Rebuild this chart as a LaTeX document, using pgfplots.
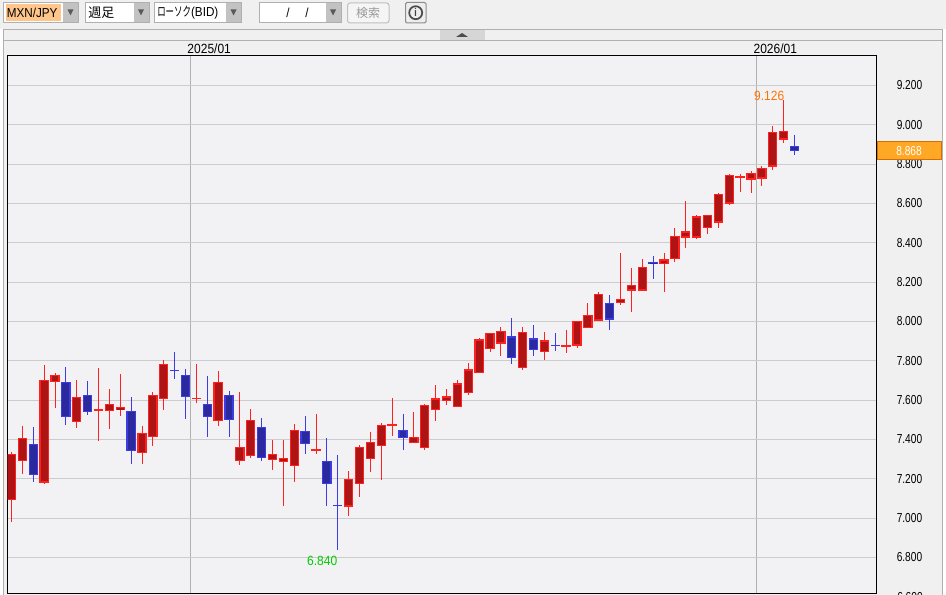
\documentclass[border=0pt]{standalone}
\usepackage{pgfplots}
\pgfplotsset{compat=1.18}
\usepackage{pgfplotstable}
\usepackage{fontspec}
\setmainfont[FakeStretch=0.78]{Liberation Sans}
\newfontfamily\wide[FakeStretch=0.9]{Liberation Sans}
\newfontfamily\jp{Noto Sans CJK JP}
\newfontfamily\jphalf[FakeStretch=0.65]{Noto Sans CJK JP}
\definecolor{upedge}{HTML}{FF2020}
\definecolor{upfill}{HTML}{AE1414}
\definecolor{downedge}{HTML}{3C3CE0}
\definecolor{downfill}{HTML}{2A2A9E}
\definecolor{panel}{HTML}{F2F2F5}
\definecolor{ui}{HTML}{F0F0F0}
\definecolor{uiline}{HTML}{B0B0B0}

% weekly candles, red = close above open
\pgfplotstableread{
i o h l c
0 7.091 7.338 6.981 7.326
1 7.290 7.470 7.227 7.407
3 7.181 7.781 7.174 7.703
4 7.693 7.739 7.559 7.729
6 7.489 7.705 7.460 7.616
8 7.543 7.766 7.390 7.555
9 7.545 7.659 7.455 7.581
10 7.550 7.735 7.521 7.565
12 7.331 7.470 7.276 7.433
13 7.412 7.644 7.368 7.627
14 7.605 7.802 7.552 7.785
17 7.606 7.786 7.588 7.611
19 7.494 7.746 7.470 7.693
21 7.291 7.642 7.269 7.362
22 7.316 7.556 7.304 7.499
24 7.296 7.399 7.243 7.326
25 7.286 7.399 7.061 7.306
26 7.265 7.480 7.183 7.448
28 7.346 7.531 7.325 7.352
31 7.058 7.242 7.010 7.199
32 7.174 7.374 7.107 7.362
33 7.301 7.439 7.233 7.387
34 7.367 7.485 7.193 7.473
35 7.473 7.612 7.419 7.478
37 7.382 7.541 7.382 7.412
38 7.357 7.581 7.348 7.575
39 7.549 7.678 7.495 7.610
40 7.595 7.657 7.576 7.620
41 7.564 7.703 7.564 7.686
42 7.635 7.787 7.628 7.757
43 7.736 7.916 7.736 7.909
44 7.858 7.944 7.846 7.944
45 7.888 7.970 7.826 7.954
47 7.762 7.970 7.752 7.949
49 7.843 7.949 7.806 7.904
51 7.868 7.959 7.841 7.878
52 7.878 8.005 7.866 8.005
53 7.965 8.096 7.965 8.035
54 8.005 8.149 8.005 8.142
56 8.096 8.346 8.083 8.117
57 8.157 8.270 8.047 8.188
58 8.157 8.316 8.157 8.279
60 8.290 8.346 8.152 8.316
61 8.316 8.473 8.304 8.437
62 8.427 8.611 8.375 8.458
63 8.427 8.540 8.420 8.534
64 8.473 8.544 8.444 8.544
65 8.503 8.655 8.474 8.650
66 8.599 8.752 8.591 8.746
67 8.731 8.752 8.657 8.741
68 8.721 8.767 8.652 8.757
69 8.726 8.789 8.687 8.782
70 8.787 8.992 8.768 8.965
71 8.924 9.126 8.910 8.970
}\uptab
\pgfplotstableread{
i o h l c
2 7.377 7.465 7.186 7.219
5 7.693 7.771 7.472 7.514
7 7.627 7.700 7.526 7.538
11 7.545 7.618 7.276 7.341
15 7.754 7.843 7.710 7.749
16 7.729 7.761 7.506 7.616
18 7.581 7.725 7.414 7.514
20 7.627 7.649 7.414 7.499
23 7.463 7.510 7.289 7.306
27 7.443 7.521 7.325 7.377
29 7.291 7.409 7.061 7.174
30 7.068 7.323 6.840 7.063
36 7.448 7.531 7.348 7.407
46 7.924 8.020 7.785 7.812
48 7.914 7.980 7.826 7.853
50 7.883 7.944 7.851 7.873
55 8.096 8.137 7.956 8.010
59 8.305 8.331 8.218 8.290
72 8.894 8.946 8.846 8.868
}\downtab

% wick, then body edge, then body fill, all as error bars
\pgfplotsset{errs/.style 2 args={draw=none, mark=none, error bars/.cd, y dir=both, y explicit, error mark=none,
    error bar style={draw=#1, solid, line width=#2}}}
\newcommand{\candles}[3]{%
  \addplot[errs={#2}{.75pt}]
    table[x=i, y=c, y error plus expr=\thisrow{h}-\thisrow{c}, y error minus expr=\thisrow{c}-\thisrow{l}] {#1};
  \addplot[errs={#2}{7pt}]
    table[x=i, y expr=(\thisrow{o}+\thisrow{c})/2, y error plus expr={max(abs(\thisrow{c}-\thisrow{o})/2,0.0035)}, y error minus expr={max(abs(\thisrow{c}-\thisrow{o})/2,0.0035)}] {#1};
  \addplot[errs={#3}{5.2pt}]
    table[x=i, y expr=(\thisrow{o}+\thisrow{c})/2, y error plus expr={max(abs(\thisrow{c}-\thisrow{o})/2-0.0066,0)}, y error minus expr={max(abs(\thisrow{c}-\thisrow{o})/2-0.0066,0)}] {#1};
}
% toolbar combo box: left, right, top, bottom of the frame
\newcommand{\combo}[4]{%
  \draw[uiline, fill=white, line width=.75pt] (#1,#3) rectangle (#2,#4);
  \fill[black!24] ({#2-15.5},{#3+.5}) rectangle ({#2-.5},{#4-.5});
  \fill[black!65] ({#2-11},{#3+7}) -- ({#2-5},{#3+7}) -- ({#2-8},{#3+13}) -- cycle;
}

\begin{document}
\begin{tikzpicture}[font=\fontsize{9.75pt}{11pt}\selectfont, px/.style={x=0.75pt, y=-0.75pt}]
\useasboundingbox (0pt,0pt) rectangle (709.5pt,-446.25pt);
\clip (0pt,0pt) rectangle (709.5pt,-446.25pt);

\begin{scope}[px]
\fill[ui] (0,0) rectangle (946,595);
\fill[white] (0,29) rectangle (3,595);
\fill[white] (943,29) rectangle (946,595);

% toolbar
\combo{3.5}{78.5}{2.5}{22.5}
\fill[orange!45!white] (6,4) rectangle (61,21);
\node[anchor=west, inner sep=0pt] at (6.5,12.5) {\wide MXN/JPY};
\combo{85.5}{149}{2.5}{22.5}
\node[anchor=west, inner sep=0pt] at (88,12.5) {\jp 週足};
\combo{154.5}{241.5}{2.5}{22.5}
\node[anchor=west, inner sep=0pt] at (157,12.5) {\jphalf ローソク\wide (BID)};
\combo{259.5}{341}{2.5}{22.5}
\node[inner sep=0pt] at (288,12.5) {\wide /};
\node[inner sep=0pt] at (307,12.5) {\wide /};
\draw[black!25, fill=black!4, rounded corners=2pt, line width=.75pt] (347.5,3) rectangle (389,23);
\node[inner sep=0pt, text=black!40] at (368,13) {\jp\fontsize{9pt}{10pt}\selectfont 検索};
\draw[black!45, fill=black!7, rounded corners=1pt, line width=.75pt] (405.5,2.5) rectangle (426,23);
\draw[black!70, line width=1.3pt] (415.7,12.7) circle (6.5);
\node[inner sep=0pt, text=black!75] at (415.7,12.7) {\bfseries\fontsize{8.5pt}{9pt}\selectfont i};

% chart panel
\draw[uiline, line width=.75pt] (3.5,595) -- (3.5,29.5) -- (942.5,29.5) -- (942.5,595);
\draw[uiline, line width=.75pt] (3.5,40.5) -- (942.5,40.5);
\fill[black!16] (440,30) rectangle (485,40);
\fill[black!70] (456,37) -- (468,37) -- (462,33) -- cycle;
\end{scope}

\begin{axis}[
  at={(5.625pt,-445.125pt)}, anchor=south west,
  scale only axis, width=651.75pt, height=403.5pt,
  xmin=-0.368, xmax=79.54, ymin=6.617, ymax=9.3525,
  axis background/.style={fill=panel},
  axis line style={black, line width=.75pt},
  major tick length=0pt,
  xtick={16.46,68.52}, xticklabels={2025/01,2026/01},
  xticklabel pos=top,
  xticklabel style={xshift=14pt, yshift=1pt, inner sep=0pt, font=\wide},
  ytick={6.8,7,7.2,7.4,7.6,7.8,8,8.2,8.4,8.6,8.8,9,9.2},
  yticklabel pos=right,
  yticklabel style={anchor=west, inner sep=0pt, xshift=15pt,
    /pgf/number format/assume math mode=true,
    /pgf/number format/fixed, /pgf/number format/fixed zerofill, /pgf/number format/precision=3},
  xmajorgrids, ymajorgrids,
  x grid style={uiline, line width=.75pt},
  y grid style={black!20, line width=.75pt},
]
\candles{\uptab}{upedge}{upfill}
\candles{\downtab}{downedge}{downfill}
\node[text=orange!90!red, inner sep=0pt, font=\wide] at (axis cs:69.67,9.146) {9.126};
\node[text=green!80!black, inner sep=0pt, font=\wide] at (axis cs:28.57,6.782) {6.840};
\end{axis}

\begin{scope}[px]
% current price box and the tick that runs off the bottom
\draw[orange!85!black, fill=orange!80!yellow!85!white, line width=.75pt] (877.5,141.5) rectangle (941.5,159.5);
\node[text=white, inner sep=0pt] at (909,150.8) {8.868};
\node[anchor=west, inner sep=0pt] at (897,596.7) {6.600};
\end{scope}
\end{tikzpicture}
\end{document}
